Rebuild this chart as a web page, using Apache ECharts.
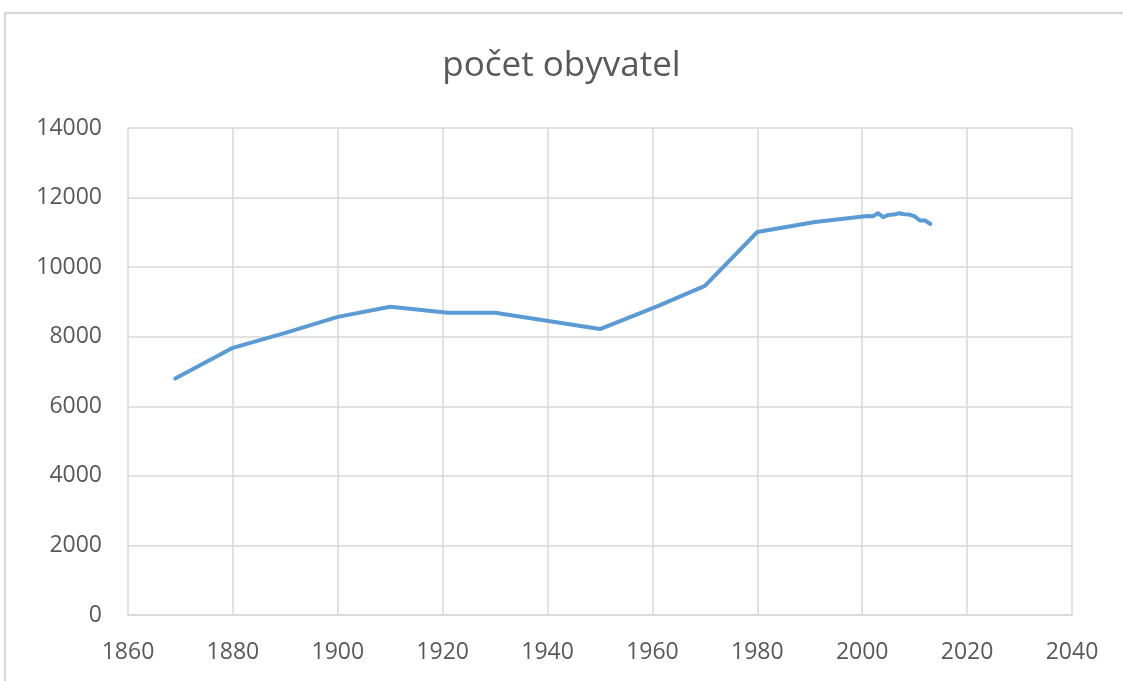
<!DOCTYPE html>
<html>
<head>
<meta charset="utf-8">
<script src="https://cdn.jsdelivr.net/npm/echarts@6/dist/echarts.min.js"></script>
<style>
  html, body { margin: 0; padding: 0; background: #fff; }
  #main { width: 1123px; height: 681px; }
</style>
</head>
<body>
<div id="main"></div>
<script>
// roky a počet obyvatel
var years = [1869, 1880, 1890, 1900, 1910, 1921, 1930, 1950, 1961, 1970, 1980, 1991, 2001,
             2002, 2003, 2004, 2005, 2006, 2007, 2008, 2009, 2010, 2011, 2012, 2013];
var population = [6800, 7680, 8110, 8570, 8860, 8690, 8690, 8220, 8880, 9460, 11010, 11300, 11470,
                  11460, 11550, 11440, 11500, 11510, 11550, 11520, 11510, 11460, 11340, 11340, 11240];

var seriesData = years.map(function (y, i) { return [y, population[i]]; });

var textColor = '#595959';
var gridColor = '#d9d9d9';
var font = '"Open Sans", "Noto Sans", sans-serif';

var myChart = echarts.init(document.getElementById('main'));
myChart.setOption({
    animation: false,
    title: {
        text: 'počet obyvatel',
        left: 'center',
        top: 44,
        textStyle: { color: textColor, fontSize: 35, fontWeight: 'normal', fontFamily: font }
    },
    graphic: [{
        type: 'rect',
        shape: { x: 5, y: 13, width: 1130, height: 700 },
        style: { fill: 'none', stroke: gridColor, lineWidth: 2.5 },
        silent: true
    }],
    grid: { left: 128, right: 51, top: 128, bottom: 66 },
    xAxis: {
        type: 'value',
        min: 1860,
        max: 2040,
        interval: 20,
        axisLine: { show: true, lineStyle: { color: gridColor, width: 1.5 } },
        axisTick: { show: false },
        axisLabel: { color: textColor, fontSize: 23, fontFamily: font, margin: 26, formatter: function (v) { return String(v); } },
        splitLine: { show: true, lineStyle: { color: gridColor, width: 1.5 } }
    },
    yAxis: {
        type: 'value',
        min: 0,
        max: 14000,
        interval: 2000,
        axisLine: { show: false },
        axisTick: { show: false },
        axisLabel: { color: textColor, fontSize: 23, fontFamily: font, margin: 26, formatter: function (v) { return String(v); } },
        splitLine: { lineStyle: { color: gridColor, width: 1.5 } }
    },
    series: [{
        name: 'počet obyvatel',
        type: 'line',
        data: seriesData,
        showSymbol: false,
        lineStyle: { color: '#5b9bd5', width: 4, cap: 'round', join: 'round' }
    }]
});
</script>
</body>
</html>
